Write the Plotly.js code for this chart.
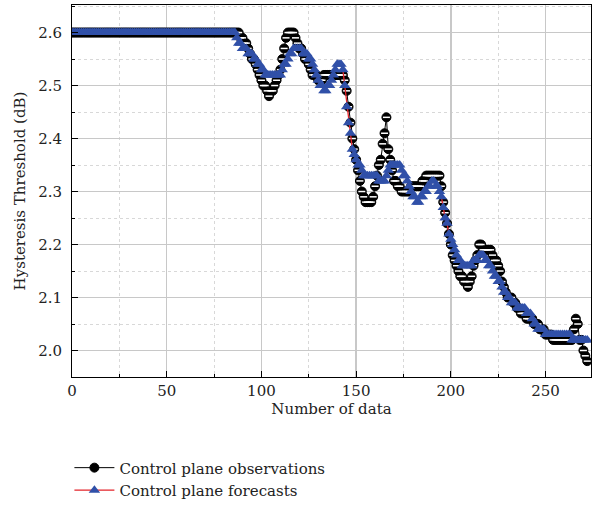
<!DOCTYPE html>
<html>
<head>
<meta charset="utf-8">
<script src="https://cdn.plot.ly/plotly-3.0.1.min.js"></script>
<style>html,body{margin:0;padding:0;background:#fff;}#chart{width:592px;height:508px;}</style>
</head>
<body>
<div id="chart"></div>
<script>
// Observations, index 0..272
const observations = [
2.60,2.60,2.60,2.60,2.60,2.60,2.60,2.60,2.60,2.60,
2.60,2.60,2.60,2.60,2.60,2.60,2.60,2.60,2.60,2.60,
2.60,2.60,2.60,2.60,2.60,2.60,2.60,2.60,2.60,2.60,
2.60,2.60,2.60,2.60,2.60,2.60,2.60,2.60,2.60,2.60,
2.60,2.60,2.60,2.60,2.60,2.60,2.60,2.60,2.60,2.60,
2.60,2.60,2.60,2.60,2.60,2.60,2.60,2.60,2.60,2.60,
2.60,2.60,2.60,2.60,2.60,2.60,2.60,2.60,2.60,2.60,
2.60,2.60,2.60,2.60,2.60,2.60,2.60,2.60,2.60,2.60,
2.60,2.60,2.60,2.60,2.60,2.60,2.60,2.60,2.60,2.59,
2.59,2.58,2.58,2.57,2.56,2.55,2.55,2.54,2.53,2.52,
2.51,2.50,2.50,2.49,2.48,2.49,2.49,2.50,2.51,2.52,
2.53,2.55,2.57,2.59,2.60,2.60,2.60,2.60,2.59,2.58,
2.57,2.57,2.56,2.55,2.55,2.54,2.53,2.52,2.52,2.52,
2.51,2.51,2.51,2.52,2.52,2.52,2.52,2.52,2.52,2.52,
2.52,2.52,2.52,2.52,2.51,2.49,2.46,2.43,2.40,2.38,
2.36,2.34,2.32,2.30,2.29,2.28,2.28,2.28,2.28,2.29,
2.31,2.33,2.35,2.36,2.39,2.41,2.44,2.38,2.36,2.34,
2.32,2.32,2.31,2.31,2.30,2.30,2.30,2.30,2.30,2.31,
2.31,2.31,2.31,2.31,2.31,2.32,2.32,2.33,2.33,2.33,
2.33,2.33,2.33,2.33,2.33,2.31,2.28,2.26,2.24,2.22,
2.20,2.18,2.17,2.16,2.15,2.14,2.14,2.13,2.13,2.12,
2.13,2.14,2.16,2.17,2.18,2.20,2.20,2.19,2.19,2.19,
2.19,2.19,2.18,2.17,2.17,2.16,2.15,2.13,2.12,2.11,
2.10,2.10,2.10,2.09,2.09,2.08,2.08,2.07,2.07,2.07,
2.06,2.06,2.06,2.06,2.05,2.05,2.05,2.04,2.04,2.04,
2.03,2.03,2.03,2.03,2.02,2.02,2.02,2.02,2.02,2.02,
2.02,2.02,2.02,2.02,2.02,2.04,2.06,2.05,2.02,2.02,
2.00,1.99,1.98
];
// Forecasts, index 0..272
const forecasts = [
2.60,2.60,2.60,2.60,2.60,2.60,2.60,2.60,2.60,2.60,
2.60,2.60,2.60,2.60,2.60,2.60,2.60,2.60,2.60,2.60,
2.60,2.60,2.60,2.60,2.60,2.60,2.60,2.60,2.60,2.60,
2.60,2.60,2.60,2.60,2.60,2.60,2.60,2.60,2.60,2.60,
2.60,2.60,2.60,2.60,2.60,2.60,2.60,2.60,2.60,2.60,
2.60,2.60,2.60,2.60,2.60,2.60,2.60,2.60,2.60,2.60,
2.60,2.60,2.60,2.60,2.60,2.60,2.60,2.60,2.60,2.60,
2.60,2.60,2.60,2.60,2.60,2.60,2.60,2.60,2.60,2.60,
2.60,2.60,2.60,2.60,2.60,2.60,2.60,2.59,2.58,2.58,
2.57,2.57,2.57,2.56,2.56,2.56,2.55,2.55,2.54,2.54,
2.53,2.53,2.52,2.52,2.52,2.52,2.52,2.52,2.52,2.52,
2.52,2.53,2.54,2.54,2.55,2.56,2.56,2.57,2.57,2.57,
2.57,2.57,2.56,2.56,2.56,2.55,2.55,2.54,2.53,2.52,
2.51,2.50,2.50,2.49,2.49,2.50,2.50,2.51,2.52,2.53,
2.54,2.54,2.54,2.53,2.50,2.46,2.43,2.41,2.38,2.37,
2.36,2.35,2.35,2.34,2.33,2.33,2.33,2.33,2.33,2.33,
2.33,2.33,2.32,2.32,2.32,2.32,2.33,2.34,2.35,2.35,
2.35,2.35,2.35,2.35,2.34,2.33,2.33,2.32,2.31,2.30,
2.29,2.29,2.28,2.28,2.29,2.29,2.30,2.30,2.31,2.31,
2.32,2.32,2.31,2.31,2.30,2.29,2.27,2.25,2.24,2.22,
2.21,2.20,2.19,2.18,2.17,2.17,2.16,2.16,2.16,2.16,
2.16,2.16,2.17,2.17,2.17,2.18,2.18,2.18,2.17,2.17,
2.16,2.16,2.15,2.14,2.14,2.13,2.13,2.12,2.11,2.11,
2.10,2.10,2.09,2.09,2.09,2.08,2.08,2.08,2.08,2.08,
2.07,2.07,2.07,2.06,2.05,2.05,2.04,2.04,2.04,2.04,
2.03,2.03,2.03,2.03,2.03,2.03,2.03,2.03,2.03,2.03,
2.03,2.03,2.03,2.03,2.02,2.02,2.02,2.02,2.02,2.02,
2.02,2.02,2.02
];
const xIndex = observations.map((_, i) => i);
const xTicks = [0, 50, 100, 150, 200, 250];
const yTicks = [2.0, 2.1, 2.2, 2.3, 2.4, 2.5, 2.6];
const seriesNames = ['Control plane observations', 'Control plane forecasts'];

const FONT = 'DejaVu Serif, Liberation Serif, serif';
const FS = 15;

const traces = [
  {
    x: xIndex, y: observations, name: seriesNames[0], type: 'scatter', mode: 'lines+markers',
    line: {color: '#000000', width: 1},
    marker: {symbol: 'circle', size: 9, color: '#000000', line: {color: '#000000', width: 1}}
  },
  {
    x: xIndex, y: observations, showlegend: false, type: 'scatter', mode: 'markers', hoverinfo: 'skip',
    marker: {symbol: 'line-ew-open', size: 5, color: '#ffffff', line: {color: '#ffffff', width: 1.5}}
  },
  {
    x: xIndex, y: forecasts, name: seriesNames[1], type: 'scatter', mode: 'lines+markers',
    line: {color: '#e3232a', width: 1.3},
    marker: {symbol: 'triangle-up', size: 10, color: '#3050a8', line: {width: 0}}
  }
];

const layout = {
  width: 592, height: 508,
  margin: {l: 72, r: 1, t: 5, b: 123},
  paper_bgcolor: '#ffffff', plot_bgcolor: '#ffffff',
  font: {family: FONT, size: FS, color: '#222'},
  showlegend: true,
  legend: {
    x: -0.005, y: -0.2, xanchor: 'left', yanchor: 'top',
    font: {family: FONT, size: FS, color: '#222'},
    bgcolor: 'rgba(0,0,0,0)', tracegroupgap: 0, itemwidth: 40
  },
  xaxis: {
    range: [0, 274], tickvals: xTicks, ticks: 'inside', ticklen: 6, tickcolor: '#000',
    showline: true, linecolor: '#000', linewidth: 1, mirror: true,
    showgrid: true, gridcolor: '#c8c8c8', gridwidth: 1.5, zeroline: false,
    tickfont: {family: FONT, size: FS, color: '#222'},
    title: {text: 'Number of data', font: {family: FONT, size: FS, color: '#222'}, standoff: 2},
    minor: {dtick: 25, tick0: 0, ticks: 'inside', ticklen: 3, tickcolor: '#000', showgrid: true, gridcolor: '#d8d8d8', griddash: 'dot', gridwidth: 1}
  },
  yaxis: {
    range: [1.95, 2.652], tickvals: yTicks, tickformat: '.1f', ticks: 'inside', ticklen: 6, tickcolor: '#000',
    showline: true, linecolor: '#000', linewidth: 1, mirror: true,
    showgrid: true, gridcolor: '#c8c8c8', gridwidth: 1.5, zeroline: false,
    tickfont: {family: FONT, size: FS, color: '#222'},
    ticklabelstandoff: 6,
    title: {text: 'Hysteresis Threshold (dB)', font: {family: FONT, size: FS, color: '#222'}, standoff: 8},
    minor: {dtick: 0.05, tick0: 2.0, ticks: 'inside', ticklen: 3, tickcolor: '#000', showgrid: true, gridcolor: '#d8d8d8', griddash: 'dot', gridwidth: 1}
  }
};

Plotly.newPlot('chart', traces, layout, {displayModeBar: false, staticPlot: true});
</script>
</body>
</html>
